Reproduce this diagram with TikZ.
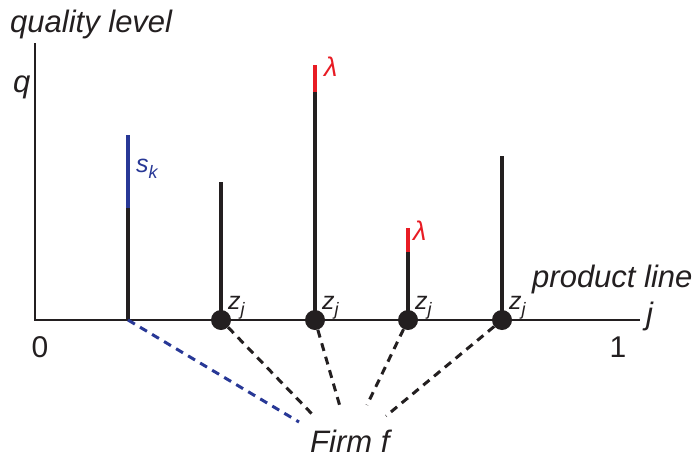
\documentclass[tikz,border=0pt]{standalone}
\usepackage{fontspec}
\setmainfont{Liberation Sans}
\definecolor{ink}{RGB}{35,31,32}
\definecolor{barblue}{RGB}{40,56,150}
\definecolor{barred}{RGB}{232,28,36}
\newcommand{\sublbl}[2]{#1\raisebox{-6pt}{\fontsize{18}{18}\selectfont #2}}

\begin{document}
\begin{tikzpicture}[x=1pt, y=-1pt,
  every node/.style={inner sep=0pt, text=ink},
  txt/.style={font=\fontsize{31}{36}\selectfont\itshape, anchor=base west},
  num/.style={font=\fontsize{30}{36}\selectfont, anchor=base},
  sub/.style={font=\fontsize{25}{30}\selectfont\itshape, anchor=base west},
  dot/.style={circle, fill=ink, minimum size=20pt},
  bar/.style={draw=ink, line width=4pt},
  link/.style={draw=ink, line width=3pt, dash pattern=on 8pt off 6pt}]
  \useasboundingbox (0,0) rectangle (698,458);

  % axes
  \coordinate (ytop) at (35,43);
  \coordinate (o) at (35,320);
  \coordinate (xend) at (640,320);
  \draw[ink, line width=1.8pt] (ytop) -- (o) -- (xend);
  \node[txt] (ylabel) at (10,32) {quality level};
  \node[txt] (q) at (13,92) {q};
  \node[num] (zero) at (40,357) {0};
  \node[num] (one) at (618,357) {1};
  \node[txt] (j) at (646,324) {j};
  \node[txt] (xlabel) at (532,287) {product line};

  % the firm's own line s_k
  \coordinate (b0) at (128,320);
  \draw[bar] (b0) -- ++(0,-112) coordinate (b0mid);
  \draw[bar, draw=barblue] (b0mid) -- ++(0,-73);
  \node[sub, text=barblue] (sk) at (136,172) {\sublbl{s}{k}};

  % products z_j
  \node[dot] (z1) at (221,320) {};
  \node[dot] (z2) at (315,320) {};
  \node[dot] (z3) at (408,320) {};
  \node[dot] (z4) at (502,320) {};
  \draw[bar] (z1.center) -- ++(0,-138);
  \draw[bar] (z2.center) -- ++(0,-228) coordinate (z2mid);
  \draw[bar, draw=barred] (z2mid) -- ++(0,-27);
  \draw[bar] (z3.center) -- ++(0,-68) coordinate (z3mid);
  \draw[bar, draw=barred] (z3mid) -- ++(0,-24);
  \draw[bar] (z4.center) -- ++(0,-164);
  \node[sub, text=barred, font=\fontsize{27}{30}\selectfont\itshape] (lam1) at (324,76) {λ};
  \node[sub, text=barred, font=\fontsize{27}{30}\selectfont\itshape] (lam2) at (413,240) {λ};
  \foreach \z in {z1,z2,z3,z4}
    \node[sub] at ([shift={(7,-11)}]\z.center) {\sublbl{z}{j}};

  % firm and its links
  \node[txt] (firm) at (310,452) {Firm f};
  \coordinate (e0) at (299,422);
  \coordinate (e1) at (313,415);
  \coordinate (e2) at (341,410);
  \coordinate (e3) at (367,405);
  \coordinate (e4) at (386,416);
  \draw[link, draw=barblue] (b0) -- (e0);
  \draw[link] (z1) -- (e1);
  \draw[link] (z2) -- (e2);
  \draw[link] (z3) -- (e3);
  \draw[link] (z4) -- (e4);
\end{tikzpicture}
\end{document}
